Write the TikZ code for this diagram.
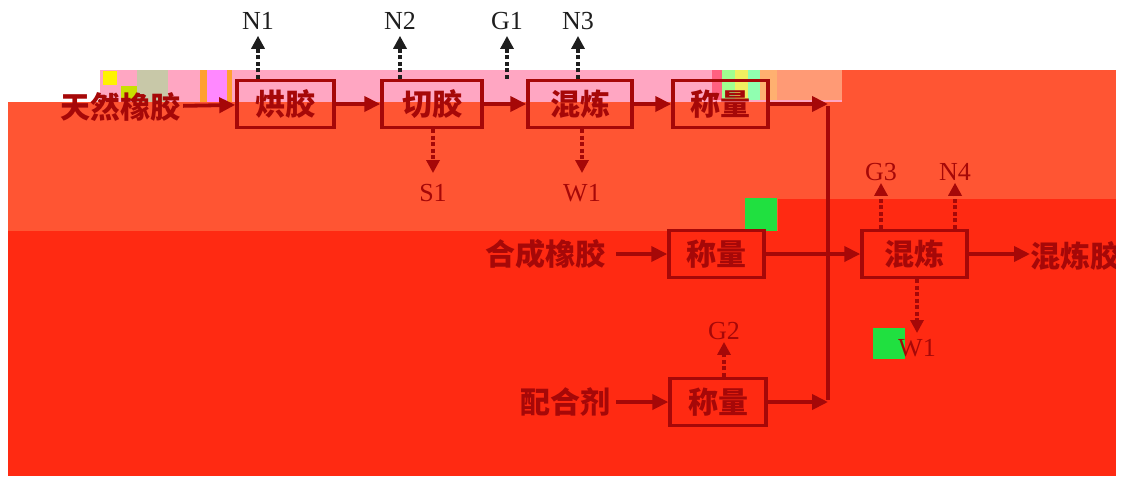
\documentclass[tikz,border=0pt]{standalone}
\usepackage{fontspec}
\setmainfont{Liberation Serif}
\newfontfamily\cjk{Noto Sans CJK SC}
\usetikzlibrary{arrows.meta}
\definecolor{lc}{HTML}{A60808}
\definecolor{tc}{HTML}{1E1E1E}
\definecolor{orng}{HTML}{FF5533}
\definecolor{redb}{HTML}{FF2A12}
\definecolor{pinkb}{HTML}{FFA6C2}
\definecolor{gA}{HTML}{FFF200}
\definecolor{gB}{HTML}{C8E000}
\definecolor{gC}{HTML}{C8C8A8}
\definecolor{gD}{HTML}{FFA030}
\definecolor{gE}{HTML}{FF88FF}
\definecolor{gF}{HTML}{FF6080}
\definecolor{gG}{HTML}{A0FF90}
\definecolor{gH}{HTML}{F0F060}
\definecolor{gI}{HTML}{90FFB0}
\definecolor{gJ}{HTML}{FFB070}
\definecolor{gK}{HTML}{FF9A75}
\definecolor{gL}{HTML}{20E040}
\begin{document}
\begin{tikzpicture}[x=1pt,y=-1pt,
  box/.style={draw=lc, line width=3.4pt, text=lc, font=\cjk\bfseries\fontsize{30}{30}\selectfont,
    minimum width=96pt, minimum height=47pt, inner sep=0pt},
  ctext/.style={text=lc, font=\cjk\bfseries\fontsize{30}{30}\selectfont, inner sep=0pt},
  lab/.style={text=lc, font=\fontsize{26}{26}\selectfont, inner sep=0pt},
  toplab/.style={lab, text=tc},
  flow/.style={draw=lc, line width=3.8pt, -{Triangle[length=16pt,width=15pt]}},
  link/.style={draw=lc, line width=3.8pt},
  dots/.style={draw=lc, line width=3.2pt, dash pattern=on 4pt off 2.5pt, -{Triangle[length=13pt,width=13pt]}},
  topdots/.style={dots, draw=tc}
]
\useasboundingbox (0,0) rectangle (1123,477);
% background regions
\fill[white] (0,0) rectangle (1123,477);
\fill[pinkb] (100,70) rectangle (842,102);
\fill[orng] (8,102) rectangle (842,231);
\fill[orng] (842,70) rectangle (1116,199);
\fill[redb] (8,231) rectangle (1116,476);
\fill[redb] (778,199) rectangle (1116,231);
% glitch blocks
\fill[gA] (103,71) rectangle (117,85);
\fill[gB] (121,86) rectangle (137,100);
\fill[gC] (137,70) rectangle (168,102);
\fill[gD] (200,70) rectangle (207,102);
\fill[gE] (207,70) rectangle (227,102);
\fill[gD] (227,70) rectangle (232,102);
\fill[gF] (712,70) rectangle (722,100);
\fill[gG] (722,70) rectangle (735,100);
\fill[gH] (735,70) rectangle (748,100);
\fill[gI] (748,70) rectangle (760,100);
\fill[gJ] (760,70) rectangle (777,100);
\fill[gK] (777,70) rectangle (842,100);
\fill[gL] (745,198) rectangle (777,231);
\fill[gL] (873,328) rectangle (905,359);

% top row
\node[ctext] (t0) at (120,107) {天然橡胶};
\node[box, minimum width=97pt] (b1) at (285.5,104) {烘胶};
\node[box, minimum width=100pt] (b2) at (432,104) {切胶};
\node[box, minimum width=104pt] (b3) at (580,104) {混炼};
\node[box, minimum width=95pt] (b4) at (720.5,104) {称量};
\coordinate (j1) at (828,104);
\coordinate (j2) at (828,402);

% middle row
\node[ctext] (t1) at (545,254) {合成橡胶};
\node[box, minimum width=95pt] (b5) at (716.5,254) {称量};
\node[box, minimum width=105pt] (b6) at (914.5,254) {混炼};
\node[ctext, anchor=west] (t2) at (1030,256) {混炼胶};

% bottom row
\node[ctext] (t3) at (565,402) {配合剂};
\node[box, minimum width=96pt] (b7) at (718,402) {称量};

% labels
\node[toplab] (n1) at (258,21) {N1};
\node[toplab] (n2) at (400,21) {N2};
\node[toplab] (g1) at (507,21) {G1};
\node[toplab] (n3) at (578,21) {N3};
\node[lab] (s1) at (433,193) {S1};
\node[lab] (w1) at (582,193) {W1};
\node[lab] (g3) at (881,172) {G3};
\node[lab] (n4) at (955,172) {N4};
\node[lab] (w2) at (917,348) {W1};
\node[lab] (g2) at (724,331) {G2};

% main flow
\draw[flow, shorten <=3pt] (t0) -- (b1);
\draw[flow] (b1) -- (b2);
\draw[flow] (b2) -- (b3);
\draw[flow] (b3) -- (b4);
\draw[flow] (b4.east) -- (j1);
\draw[link] ([yshift=-1.9pt]j1) -- ([yshift=1.9pt]j2);
\draw[flow, shorten <=11pt] (t1) -- (b5);
\draw[flow] (b5.east) -- (b5.east -| b6.west);
\draw[flow] (b6.east) -- (b6.east -| t2.west);
\draw[flow, shorten <=6pt] (t3) -- (b7);
\draw[flow] (b7.east) -- (b7.east -| j2);

% emissions
\draw[topdots, shorten >=6pt] (b1.north -| n1) -- (n1.south);
\draw[topdots, shorten >=6pt] (b2.north -| n2) -- (n2.south);
\draw[topdots, shorten >=6pt] (b2.north -| g1) -- (g1.south);
\draw[topdots, shorten >=6pt] (b3.north -| n3) -- (n3.south);
\draw[dots, shorten >=11pt] (b2.south -| s1) -- (s1.north);
\draw[dots, shorten >=11pt] (b3.south -| w1) -- (w1.north);
\draw[dots, shorten >=2pt] (b6.north -| g3) -- (g3.south);
\draw[dots, shorten >=2pt] (b6.north -| n4) -- (n4.south);
\draw[dots, shorten >=6pt] (b6.south -| w2) -- (w2.north);
\draw[dots, shorten >=2pt] (b7.north -| g2) -- (g2.south);

% right edge margin
\fill[white] (1116,0) rectangle (1123,477);
\end{tikzpicture}
\end{document}
